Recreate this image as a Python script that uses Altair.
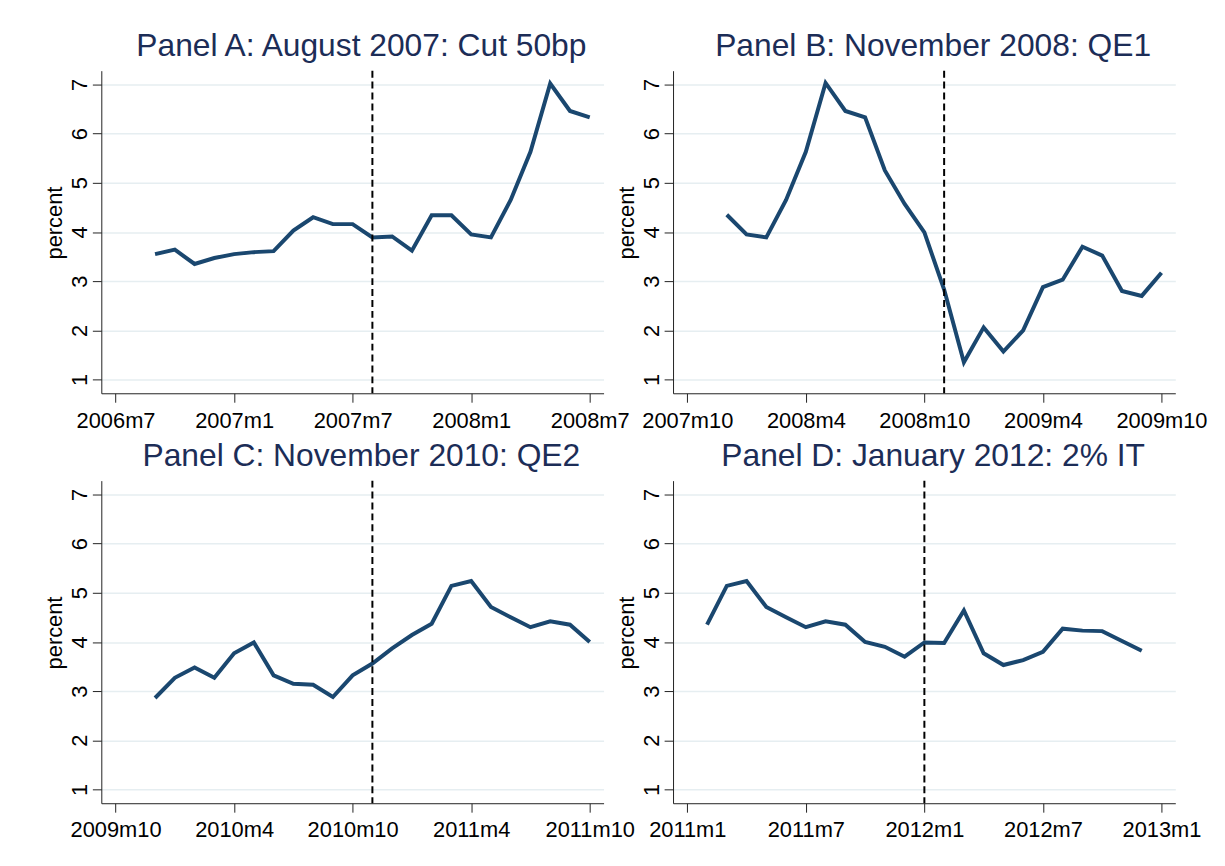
import altair as alt
import pandas as pd

# ---------------- data ----------------
panel_titles = [
    "Panel A: August 2007: Cut 50bp",
    "Panel B: November 2008: QE1",
    "Panel C: November 2010: QE2",
    "Panel D: January 2012: 2% IT",
]
first_ticks = ["2006m7", "2007m10", "2009m10", "2011m1"]
start_months = ["2006m9", "2007m12", "2009m12", "2011m2"]
event_months = ["2007m8", "2008m11", "2010m11", "2012m1"]

values_a = [3.55, 3.64, 3.35, 3.47, 3.55, 3.59, 3.61, 4.03, 4.30, 4.16, 4.16, 3.89,
            3.91, 3.62, 4.34, 4.34, 3.95, 3.89, 4.65, 5.63, 7.02, 6.46, 6.33]
values_b = [4.35, 3.95, 3.89, 4.65, 5.63, 7.03, 6.46, 6.33, 5.25, 4.57, 3.99, 2.83,
            1.35, 2.06, 1.57, 2.00, 2.88, 3.03, 3.70, 3.52, 2.80, 2.70, 3.17]
values_c = [2.86, 3.27, 3.48, 3.27, 3.77, 3.99, 3.32, 3.15, 3.13, 2.88, 3.32, 3.56,
            3.87, 4.14, 4.37, 5.14, 5.24, 4.71, 4.50, 4.30, 4.42, 4.35, 4.00]
values_d = [4.35, 5.14, 5.24, 4.71, 4.50, 4.30, 4.42, 4.35, 4.00, 3.90, 3.70, 3.99,
            3.98, 4.64, 3.77, 3.53, 3.63, 3.80, 4.27, 4.23, 4.22, 4.02, 3.82]
all_values = [values_a, values_b, values_c, values_d]

y_ticks = [1, 2, 3, 4, 5, 6, 7]

FONT = "Liberation Sans"
LINE_COLOR = "#1a476f"
TITLE_COLOR = "#1c2d57"
GRID_COLOR = "#e6eef1"
AXIS_COLOR = "#222222"


def tm(s):
    """Stata monthly date string '2006m9' -> months since 1960m1."""
    y, m = s.split("m")
    return (int(y) - 1960) * 12 + int(m) - 1


def panel(title, tick0, start, vals, event):
    s = tm(start)
    df = pd.DataFrame({"t": [s + i for i in range(len(vals))], "v": vals})
    t0 = tm(tick0)
    ticks = [t0 + 6 * k for k in range(5)]
    xscale = alt.Scale(domain=[t0 - 0.72, t0 + 24.70], nice=False, zero=False)
    yscale = alt.Scale(domain=[0.72, 7.28], nice=False, zero=False)

    xaxis = alt.Axis(
        values=ticks,
        labelExpr="floor(datum.value/12)+1960 + 'm' + (datum.value%12+1)",
        grid=False, tickSize=9, tickColor=AXIS_COLOR, domainColor=AXIS_COLOR,
        labelFont=FONT, labelFontSize=22, labelColor="black",
        labelBaseline="alphabetic", labelPadding=25, labelFlush=False,
        labelOverlap=False, title=None,
    )
    yaxis = alt.Axis(
        values=y_ticks, grid=True, gridColor=GRID_COLOR, gridWidth=1.5,
        tickSize=9, tickColor=AXIS_COLOR, domainColor=AXIS_COLOR,
        labelFont=FONT, labelFontSize=22, labelColor="black",
        labelAngle=270, labelAlign="center", labelBaseline="alphabetic",
        labelPadding=6, labelFlush=False, labelOverlap=False,
        title="percent", titleFont=FONT, titleFontSize=22, titleFontWeight="normal",
        titleColor="black", titleAngle=270, titleAlign="center",
        titleBaseline="middle", titleX=-47, titleY=153,
    )

    line = alt.Chart(df).mark_line(color=LINE_COLOR, strokeWidth=4).encode(
        x=alt.X("t:Q", scale=xscale, axis=xaxis),
        y=alt.Y("v:Q", scale=yscale, axis=yaxis),
    )
    rule = alt.Chart(pd.DataFrame({"t": [tm(event)]})).mark_rule(
        color="black", strokeDash=[7, 4], strokeWidth=2
    ).encode(x=alt.X("t:Q", scale=xscale))

    return alt.layer(line, rule).properties(
        width=506, height=325,
        title=alt.TitleParams(
            title, font=FONT, fontSize=32, fontWeight="normal", color=TITLE_COLOR,
            anchor="middle", frame="group", offset=-25, baseline="bottom", dx=9,
        ),
    )


panels = [
    panel(panel_titles[i], first_ticks[i], start_months[i], all_values[i], event_months[i])
    for i in range(4)
]

chart = alt.concat(
    *panels, columns=2, spacing={"row": 88, "column": 70}, bounds="flush"
).properties(
    padding={"left": 36, "top": 19, "right": 10, "bottom": 10},
    background="white",
).configure_view(stroke=None)

chart.save("out.html", embed_options={"renderer": "svg", "actions": False})
